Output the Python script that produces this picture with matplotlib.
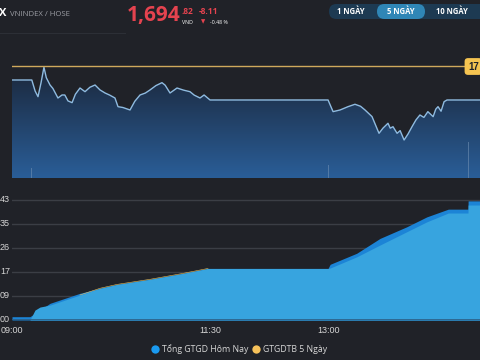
import numpy as np
import matplotlib
matplotlib.use("Agg")
from matplotlib import pyplot as plt
from matplotlib.colors import LinearSegmentedColormap
from matplotlib.patches import FancyBboxPatch

plt.rcParams['font.family'] = ['Open Sans', 'DejaVu Sans']

# index line (minutes after 09:00, points)
price_min = [0, 15, 17.5, 19.7, 22, 24.2, 26, 28.8, 31, 34.8, 37.9, 40, 42.4, 45.5, 48,
             51.5, 55.3, 59, 62.9, 66.7, 70.5, 74, 78, 80.3, 84, 89.4, 93, 97, 101, 104.5,
             109, 113.6, 116, 119.7, 125, 130, 134.8, 138, 142.4, 145.5, 150,
             239.4, 243.2, 248.5, 254.5, 259.8, 264, 267.4, 272.7, 278, 281, 284.8, 286.5,
             288.6, 291.7, 294, 297, 300, 303, 306, 309, 312, 315, 319, 321, 322.7, 325,
             327.3, 329.5, 354.5]
price_val = [1699.66, 1699.66, 1697.0, 1695.62, 1699.0, 1702.74, 1700.2, 1698.45, 1697.6,
             1695.30, 1696.03, 1696.03, 1694.6, 1694.17, 1696.2, 1697.72, 1696.83, 1697.9,
             1698.45, 1697.24, 1696.51, 1696.0, 1695.30, 1693.20, 1693.0, 1692.40,
             1694.5, 1696.03, 1696.5, 1697.24, 1698.3, 1699.01, 1698.4, 1696.51, 1697.72,
             1697.2, 1696.83, 1696.0, 1695.30, 1696.03, 1694.82, 1694.82, 1692.00,
             1692.40, 1693.20, 1693.78, 1693.3, 1692.40, 1690.80, 1686.75, 1688.0,
             1689.18, 1688.0, 1688.35, 1686.75, 1687.4, 1685.13, 1686.6, 1688.35, 1690.0,
             1691.19, 1690.6, 1691.99, 1690.78, 1692.6, 1693.20, 1692.1, 1694.41, 1694.82,
             1694.82]
ref_price = 1702.93
vol_min = [15, 240, 345.5]
vol_val = [10, 13, 36]

# cumulative trading value
today_min = [0, 13.6, 28.8, 51.5, 66.7, 79.5, 104.5, 129.5, 148.5, 239.4, 241, 261.1,
             278.8, 299, 314.2, 330.5, 345.4, 345.5, 354.5]
today_val = [1.2, 1.2, 6.05, 9.68, 11.5, 12.9, 14.75, 16.9, 18.7, 18.7, 20.2, 24.2,
             29.6, 33.8, 37.4, 40.2, 40.2, 43.2, 43.2]
avg_min = [13.6, 17.4, 21.2, 28.8, 51.5, 66.7, 79.5, 104.5, 129.5, 148.5, 239.4, 241,
           261.1, 278.8, 299, 314.2, 330.5, 345.4, 345.5, 354.5]
avg_val = [0, 3.6, 4.7, 5.4, 9.06, 11.5, 12.9, 14.75, 16.9, 18.7, 18.7, 18.85, 22.9,
           27.2, 32.0, 35.6, 38.8, 38.8, 41.7, 41.7]
y_ticks = [0, 8.7, 17.4, 26.1, 34.8, 43.5]
y_labels = ["00", "09", "17", "26", "35", "43"]
x_ticks = [0, 150, 240]
x_labels = ["09:00", "11:30", "13:00"]

bg = '#202228'
W, H = 480, 360
fig = plt.figure(figsize=(4.8, 3.6), dpi=100, facecolor=bg)

def box(x0, y0, x1, y1):
    return [x0 / W, 1 - y1 / H, (x1 - x0) / W, (y1 - y0) / H]

# ---- top: index chart
ax1 = fig.add_axes(box(12, 60, 480, 178))
ax1.set_facecolor(bg)
ax1.set_xlim(0, 354.5)
ymin, ymax = 1675.93, 1704.5
ax1.set_ylim(ymin, ymax)
cmap = LinearSegmentedColormap.from_list('g', ['#2a5e98', '#1a2334'])
grad = np.linspace(0, 1, 256).reshape(-1, 1)
im = ax1.imshow(grad, aspect='auto', cmap=cmap, origin='lower',
                extent=[0, 354.5, ymin, ymax], zorder=1)
poly = ax1.fill_between(price_min, price_val, ymin, facecolor='none', edgecolor='none')
im.set_clip_path(poly.get_paths()[0], transform=ax1.transData)
ax1.bar(vol_min, [v / 4.13 for v in vol_val], bottom=ymin, width=0.8,
        color='#6f8fb3', alpha=0.6, zorder=2)
ax1.plot(price_min, price_val, color='#8fbbe0', lw=1.0, zorder=3)
ax1.axhline(ref_price, color='#cfa95c', lw=1.0, zorder=3)
ax1.axis('off')

# ---- bottom: trading value chart
ax2 = fig.add_axes(box(12, 186, 480, 320))
ax2.set_facecolor(bg)
ax2.set_xlim(0, 354.5)
ax2.set_ylim(0, 48.6)
for yv in y_ticks[1:]:
    ax2.axhline(yv, color='#3b3e45', lw=1.0, zorder=0)
ax2.fill_between(today_min, today_val, 0, color='#1c84d6', lw=0, zorder=1)
ax2.fill_between(avg_min, avg_val, 0, color='#37a4df', lw=0, zorder=2)
ax2.plot(avg_min[4:10], avg_val[4:10], color='#e8c060', lw=0.4, zorder=3)
for s in ax2.spines.values():
    s.set_visible(False)
ax2.axhline(0, color='#2d5f85', lw=1.2, zorder=4)
ax2.set_yticks([])
ax2.set_xticks(x_ticks)
ax2.set_xticklabels(x_labels, family=['Liberation Sans'], fontsize=6.5, color='#d6d6d6')
ax2.tick_params(axis='x', length=0, pad=4)

# ---- overlay in pixel coordinates for header, labels, legend
ov = fig.add_axes([0, 0, 1, 1], facecolor='none')
ov.set_xlim(0, W)
ov.set_ylim(H, 0)
ov.axis('off')

for yv, lab in zip(y_ticks, y_labels):
    ov.text(0, 320 - yv / 0.3625, lab, ha='left', va='center', fontsize=6.5,
            color='#d6d6d6', family=['Liberation Sans'])

ov.text(468, 66.5, "17", fontsize=7, fontweight='bold', color='#202228',
        ha='left', va='center', family=['Liberation Sans'],
        bbox=dict(boxstyle='round,pad=0.35', fc='#f5c451', ec='none'))

# legend
ov.plot([155], [349], 'o', ms=6, color='#1a9af0', mec='none')
ov.text(162, 349, "Tổng GTGD Hôm Nay", fontsize=6.3, color='#d6d6d6',
        ha='left', va='center')
ov.plot([256], [349], 'o', ms=6, color='#f5c15a', mec='none')
ov.text(263, 349, "GTGDTB 5 Ngày", fontsize=6.3, color='#d6d6d6',
        ha='left', va='center')

# header
ov.text(-1, 14, "X", fontsize=8, fontweight='bold', color='white', va='center')
ov.text(10, 14, "VNINDEX / HOSE", fontsize=5.6, color='#9a9ca3', va='center')
ov.text(127, 16, "1,694", fontsize=15, fontweight='bold', color='#e5434f',
        va='center')
ov.text(182, 11, ".82", fontsize=6, fontweight='bold', color='#e5434f', va='center')
ov.text(182, 22, "VND", fontsize=3.8, color='white', va='center')
ov.text(199, 11, "-8.11", fontsize=6, fontweight='bold', color='#e5434f', va='center')
ov.text(201, 22, "▼", fontsize=4, color='#e5434f', va='center', family=['DejaVu Sans'])
ov.text(210, 22, "-0.48 %", fontsize=3.8, color='white', va='center')
ov.plot([0, 125], [32.5, 32.5], color='#2c2f36', lw=0.8)

# range buttons
ov.add_patch(FancyBboxPatch((329, 4), 160, 15, boxstyle='round,pad=0,rounding_size=7.5',
                            fc='#1d3a52', ec='none'))
ov.add_patch(FancyBboxPatch((377, 4), 48, 15, boxstyle='round,pad=0,rounding_size=7.5',
                            fc='#2f86b6', ec='none'))
for xc, lab in zip([351, 401, 452], ["1 NGÀY", "5 NGÀY", "10 NGÀY"]):
    ov.text(xc, 11.5, lab, fontsize=5.5, fontweight='bold', color='white',
            ha='center', va='center')

fig.savefig('out.png', dpi=100, facecolor=bg)
